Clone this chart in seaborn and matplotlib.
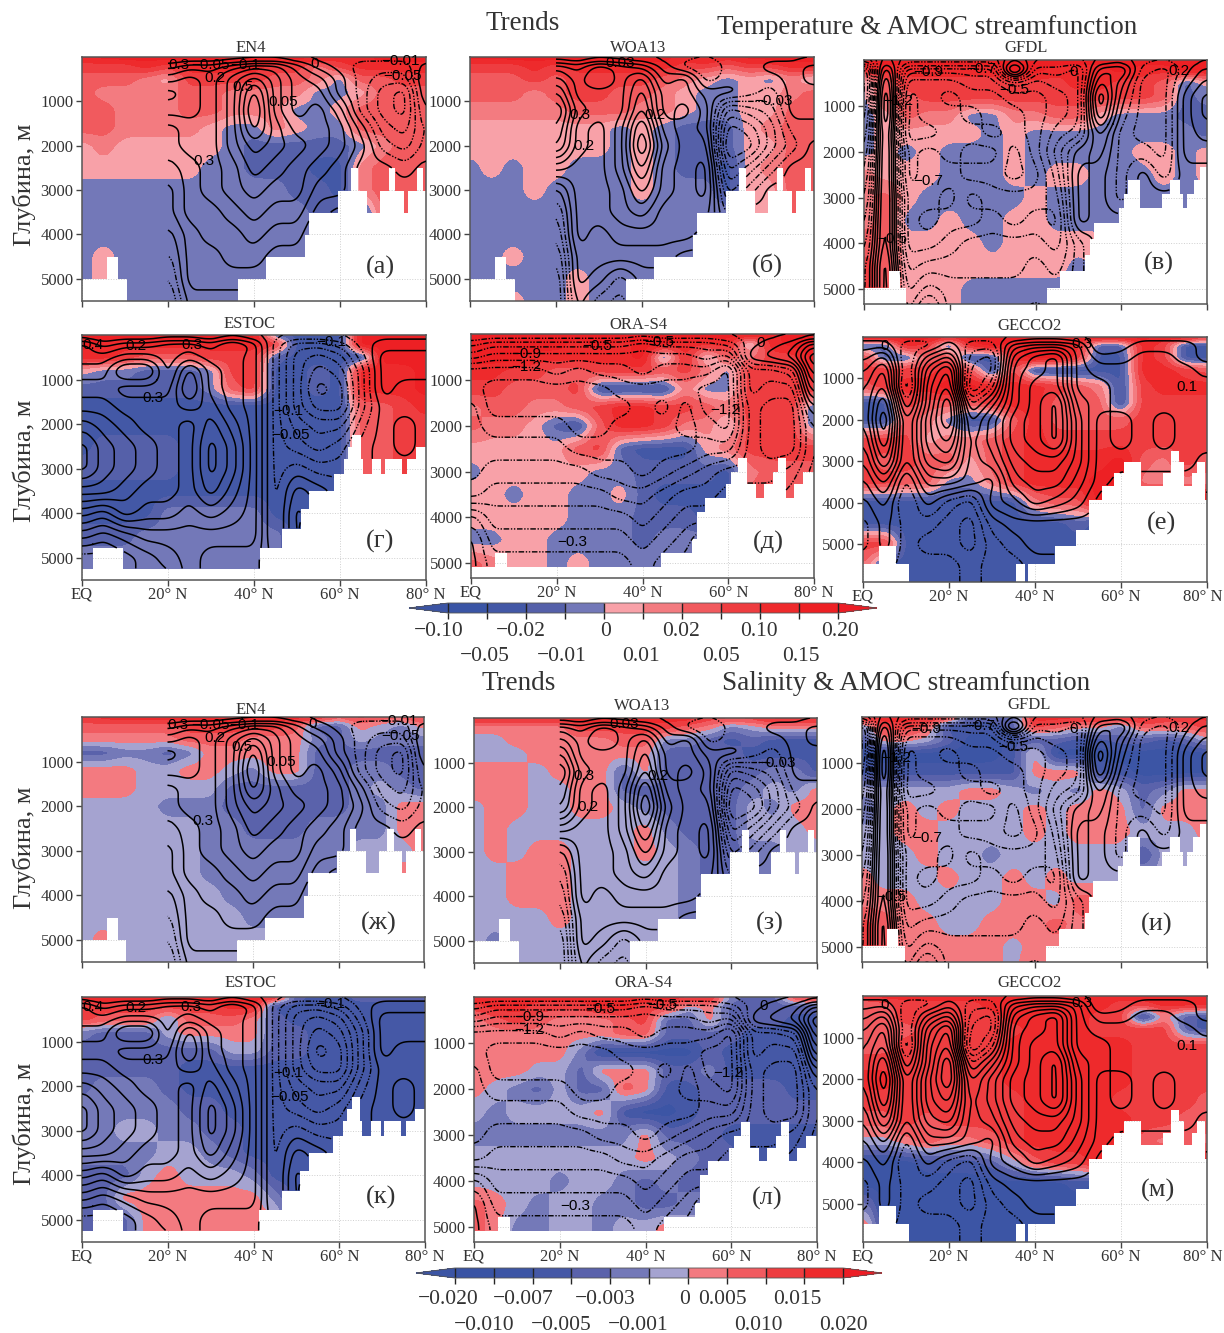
import numpy as np
import matplotlib
matplotlib.use('Agg')
import matplotlib.pyplot as plt
from matplotlib.cm import ScalarMappable
from matplotlib.colors import BoundaryNorm, ListedColormap
from matplotlib.transforms import ScaledTranslation
import seaborn as sns

sns.set_theme(style='ticks')
plt.rcParams['font.family'] = ['Liberation Serif', 'DejaVu Serif']

W, H = 1224, 1333

LATS = np.arange(0, 81, 5)
DEPTHS = [0, 200, 500, 800, 1200, 1600, 2000, 2500, 3000, 3500, 4000, 4500, 5000, 5500]

TEMP_COLORS = ['#3a55a5', '#4358a6', '#5560a9', '#7378b8', '#f8a1a8',
               '#f37b80', '#f15a5e', '#ee3d40', '#ee2a2c', '#ed2024']
SALT_COLORS = ['#3953a4', '#3c55a5', '#4558a6', '#5a62ab', '#7479b8',
               '#a5a3d0', '#f37a80', '#f15b60', '#ee3d40', '#ee2a2c']
TEMP_TICKS_1 = ['\u22120.10', '\u22120.02', '0', '0.02', '0.10', '0.20']
TEMP_TICKS_2 = ['\u22120.05', '\u22120.01', '0.01', '0.05', '0.15']
SALT_TICKS_1 = ['\u22120.020', '\u22120.007', '\u22120.003', '0', '0.005', '0.015']
SALT_TICKS_2 = ['\u22120.010', '\u22120.005', '\u22120.001', '0.010', '0.020']

# colour class of the trend per depth row, digits run over EQ-20, 25-45, 50-70, 75-80
EN4_T = ["89999 99999 99889 99", "77787 88887 75788 88", "66654 77776 65366 77", "65555 66555 53346 66",
         "66555 66555 33466 66", "66555 54335 43366 66", "45444 44322 22235 66", "44444 43322 21156 66",
         "33333 33333 22156 66", "33333 33333 32216 66", "33333 33333 33322 22", "34333 33333 33333 33",
         "34333 33333 33333 33", "33333 33333 33333 33"]
WOA_T = ["99999 99999 89899 99", "77787 88888 77677 88", "66676 77776 54343 53", "66656 77665 43344 56",
         "55555 66655 43344 66", "44444 44343 22245 66", "44444 44343 22244 66", "34344 33343 22145 66",
         "33343 33343 33144 66", "33333 33333 33344 66", "33333 33333 33333 33", "33433 33333 33333 33",
         "33333 43333 33333 33", "33433 43333 33333 33"]
GFDL_T = ["99999 99999 99999 99", "88888 88998 88988 99", "36777 77777 88776 24", "36677 77777 77776 23",
          "34655 33556 64333 22", "34444 43433 33333 32", "34343 33433 33344 34", "54443 33434 43334 34",
          "56433 33343 33333 33", "56334 33443 33333 33", "66444 43444 44333 33", "76444 44444 34444 44",
          "76444 33333 34444 44", "76444 33333 34444 44"]
ESTOC_T = ["99999 99992 11199 99", "98888 88887 11199 99", "88766 67772 11119 99", "43322 23771 12188 89",
           "22222 23671 12188 89", "11111 11111 11166 78", "11111 11111 11166 77", "12222 11111 11166 77",
           "22222 11111 11166 77", "11111 11111 11166 77", "11113 33331 11111 11", "22233 33333 11111 11",
           "33333 33333 11111 11", "33333 33333 11111 11"]
ORA_T = ["99999 99999 99998 99", "99999 89899 88838 99", "99988 88892 83657 79", "88776 67776 75377 78",
         "77666 71111 53377 77", "56655 67887 76577 72", "65542 16887 55377 72", "44444 67211 14577 77",
         "34444 43322 22156 66", "44344 33421 11166 66", "44444 33322 21166 66", "33443 33323 33333 33",
         "65443 43333 33333 33", "65443 43333 33333 33"]
GECCO_T = ["99998 99998 89998 97", "22872 89899 82287 11", "72266 11899 71187 11", "77778 61711 11188 76",
           "67889 98887 65178 88", "11766 67886 66177 77", "11653 11686 66677 77", "77745 56787 77777 77",
           "76766 46788 88965 76", "77663 35788 89955 55", "11111 11156 69999 99", "11111 11111 21111 11",
           "77111 11111 11111 11", "61111 11111 11111 11"]
EN4_S = ["89999 99999 99787 78", "77777 88888 73365 46", "66666 77766 64354 44", "33443 46666 63333 33",
         "66655 66546 63344 33", "66655 55333 33345 43", "55554 44333 33344 66", "55555 54433 34444 66",
         "55555 54444 44455 56", "55555 54444 44455 65", "55555 55444 44444 55", "55555 55544 44444 44",
         "56555 55555 55555 55", "55555 55555 55555 55"]
WOA_S = ["99999 99999 98889 99", "66666 88888 76456 66", "55666 66774 43232 22", "55566 66663 33322 22",
         "66656 66363 33334 42", "66655 66333 33345 46", "56655 66543 33354 66", "56555 55564 33355 56",
         "56566 55565 43344 55", "55666 55555 43344 55", "55666 55555 44444 44", "55556 55555 44444 44",
         "54555 55555 55555 55", "55555 55555 55555 55"]
GFDL_S = ["99998 33399 99998 89", "48872 22387 66477 78", "26653 11233 22332 35", "11111 11261 11111 11",
          "22222 22266 62211 11", "55555 66545 46534 66", "35656 55565 66636 66", "55665 55565 66655 56",
          "55565 54555 55525 55", "65556 55656 55555 55", "66655 55665 77666 66", "87665 56667 67777 77",
          "87666 66566 66777 77", "66666 66576 66666 66"]
ESTOC_S = ["99999 99999 32233 33", "88888 88992 22222 22", "87774 77763 22222 22", "43335 66663 32222 22",
           "33333 33553 32222 22", "33333 22222 22222 22", "34443 22222 22222 22", "44444 33222 22222 22",
           "44554 43322 22222 22", "44445 54322 22222 22", "33356 55542 22222 22", "33666 66664 22222 22",
           "33366 66666 22222 22", "33366 66666 22222 22"]
ORA_S = ["99999 99999 99433 89", "89988 89988 56333 33", "67876 66783 36333 22", "66666 66773 33322 22",
         "66666 41111 13222 22", "66655 36663 34222 22", "65435 33762 23333 22", "54555 56211 23333 33",
         "44444 44463 33222 22", "55555 55565 43322 22", "55554 55434 33333 33", "76545 54433 44444 44",
         "76445 54556 55555 55", "76445 54556 55555 55"]
GECCO_S = ["89999 99999 99999 99", "77888 89999 99889 99", "77888 88999 98816 32", "77788 88899 98888 32",
           "77888 88999 99988 88", "88888 88999 99988 88", "99888 88999 99988 88", "88888 88899 99888 87",
           "77878 88899 99988 77", "55676 67899 99976 76", "11122 23578 89999 99", "11111 11111 21111 11",
           "41111 11111 11111 11", "71111 11111 11111 11"]

# streamfunction in contour steps, x where a product has none
EN4_PSI = ["x x x x 0 0 0 0 0 0 0 0 0 0 0 0 0",
           "x x x x 2 3 3 4 5 5 3 1 0 -1 -1 -1 1",
           "x x x x 4 5 4 6 8 6 4 3 1 -1 -2 -2 2",
           "x x x x 6 5 4 6 10 6 4 4 1 -1 -3 -4 2",
           "x x x x 5 5 4 6 11 6 4 5 3 -1 -3 -4 1",
           "x x x x 3 4 4 6 10 7 5 5 4 1 -2 -3 0",
           "x x x x 3 4 4 6 8 7 6 5 4 2 -1 -2 0",
           "x x x x 2 3 4 5 7 6 5 4 3 1 1 0 1",
           "x x x x 1 3 4 5 6 5 5 3 3 1 1 1 1",
           "x x x x 1 3 3 4 5 4 4 2 1 1 1 1 1",
           "x x x x 0 2 3 3 4 3 3 1 1 1 1 1 1",
           "x x x x -1 2 2 3 3 2 2 1 1 1 1 1 1",
           "x x x x -2 2 2 2 2 2 1 1 1 1 1 1 1",
           "x x x x -3 1 1 1 1 1 1 1 1 1 1 1 1"]
WOA_PSI = ["x x x x 0 0 0 0 0 0 0 0 0 0 0 0 0",
           "x x x x 4 3 5 4 3 1 -1 -2 0 0 1 1 2",
           "x x x x 6 4 6 4 6 2 3 -1 0 0 0 1 2",
           "x x x x 8 4 4 4 7 3 3 1 1 0 -1 1 1",
           "x x x x 10 5 4 4 8 3 4 2 -4 -3 -2 1 1",
           "x x x x 9 4 3 5 10 4 3 2 -6 -5 -3 0 0",
           "x x x x 8 4 3 5 11 5 3 3 -7 -6 -3 -1 1",
           "x x x x 4 3 3 5 9 4 3 4 -5 -3 -1 1 1",
           "x x x x 0 3 3 4 7 4 3 4 -3 -1 1 1 1",
           "x x x x -2 3 3 4 5 3 3 3 -1 1 1 1 1",
           "x x x x -3 3 2 3 3 3 3 2 1 1 1 1 1",
           "x x x x -4 2 2 2 2 2 1 1 1 1 1 1 1",
           "x x x x -5 2 1 -1 1 1 1 1 1 1 1 1 1",
           "x x x x -5 1 -1 -2 0 1 1 1 1 1 1 1 1"]
GFDL_PSI = ["0 0 0 0 0 0 0 0 0 0 0 0 0 0 0 0 0",
            "-9 4 -4 -4 -4 -4 -4 6 -2 -2 -3 3 4 -1 -2 0 2",
            "-10 6 -6 -6 -6 -5 -5 -3 -4 -3 -3 5 2 -2 -2 1 3",
            "-10 7 -7 -6 -7 -6 -6 -5 -5 -4 -3 7 1 -2 -2 2 4",
            "-9 7 -7 -6 -6 -7 -6 -6 -5 -4 -3 6 0 -2 -2 2 4",
            "-8 6 -7 -7 -6 -6 -7 -6 -5 -3 -2 3 -1 -2 -2 2 3",
            "-7 6 -6 -5 -6 -5 -5 -7 -5 -2 1 2 -1 -1 -2 2 2",
            "-6 6 -6 -5 -5 -6 -6 -7 -6 -3 2 1 -1 1 -1 1 1",
            "-5 6 -5 -5 -6 -4 -5 -5 -5 -4 2 1 -1 1 1 1 1",
            "-4 6 -5 -6 -5 -5 -4 -5 -4 -5 2 1 1 1 1 1 1",
            "-3 6 -5 -5 -4 -3 -3 -3 -3 -4 -1 1 1 1 1 1 1",
            "-2 7 -4 -3 -3 -3 -3 -3 -2 -3 -1 1 1 1 1 1 1",
            "-2 7 -3 -1 -2 -2 -2 -2 -2 -2 -1 1 1 1 1 1 1",
            "0 7 -2 2 -2 -2 -2 -2 -1 -2 -1 1 1 1 1 1 1"]
ESTOC_PSI = ["0 0 0 0 0 0 0 0 0 0 0 0 0 0 0 0 0",
             "4 2 3 3 4 4 3 5 3 -1 -3 -3 -2 0 1 1 1",
             "4 4 5 5 4 5 4 4 3 -1 -4 -5 -4 -1 2 2 2",
             "5 5 8 8 4 8 5 4 3 -1 -4 -6 -5 -2 2 2 2",
             "6 6 5 5 5 9 5 4 3 -1 -4 -7 -6 -2 2 1 1",
             "7 7 6 6 6 7 6 4 3 -1 -4 -6 -6 -2 1 1 1",
             "9 8 7 6 6 5 7 5 3 -1 -3 -4 -4 -1 1 2 1",
             "11 9 8 7 6 5 8 6 3 -1 -2 -3 -2 0 1 2 1",
             "11 9 8 7 6 5 8 6 3 -1 0 -1 -1 0 1 1 1",
             "8 8 7 6 6 5 7 5 3 -1 2 1 0 0 0 0 0",
             "5 4 6 5 5 4 5 4 3 -1 3 1 0 0 0 0 0",
             "2 1 2 3 3 3 3 3 3 -1 3 0 0 0 0 0 0",
             "-1 -1 0 1 2 3 2 2 2 0 0 0 0 0 0 0 0",
             "-1 -1 0 1 1 3 2 1 2 0 0 0 0 0 0 0 0"]
ORA_PSI = ["0 0 0 0 0 0 0 0 0 0 0 0 0 0 0 0 0",
           "-2 -3 -3 -3 -3 -3 -3 -3 -4 -3 -3 -3 -2 0 1 2 5",
           "-4 -5 -5 -5 -5 -5 -5 -5 -5 -5 -5 -4 -5 1 2 3 8",
           "-7 -7 -7 -7 -6 -7 -6 -6 -5 -6 -6 -6 -8 -2 -2 -1 7",
           "-7 -8 -8 -8 -8 -8 -8 -7 -7 -7 -7 -8 -8 -2 -3 -3 5",
           "-6 -8 -8 -8 -8 -8 -8 -8 -7 -8 -6 -8 -8 -3 -4 -4 2",
           "-6 -7 -7 -7 -7 -8 -8 -7 -7 -7 -6 -7 -8 -3 -4 -4 0",
           "-6 -6 -6 -6 -6 -7 -7 -7 -7 -7 -7 -6 -6 -3 -4 -4 0",
           "-6 -5 -5 -5 -5 -5 -6 -6 -7 -6 -5 -4 -3 -3 -3 -2 0",
           "-5 -4 -4 -4 -4 -4 -4 -5 -5 -4 -3 -3 -2 -2 -2 -1 0",
           "-1 -3 -3 -3 -3 -3 -3 -3 -4 -3 -2 -2 -1 -1 -1 -1 0",
           "1 -2 -2 -2 -2 -2 -2 -2 -3 -2 -1 1 0 0 0 0 0",
           "1 -1 -1 -1 -1 -1 -1 -1 -2 -1 0 1 0 0 0 0 0",
           "1 -1 -1 -1 -1 -1 -1 -1 -2 -1 0 1 0 0 0 0 0"]
GECCO_PSI = ["0 0 0 0 0 0 0 0 0 0 0 0 0 0 0 0 0",
             "1 1 -1 -1 1 -1 -1 3 4 4 3 -1 0 1 1 1 0",
             "2 4 -2 2 4 -2 -3 5 7 8 3 1 1 2 2 1 0",
             "3 6 -2 4 7 -3 -3 6 7 8 3 2 2 2 2 2 1",
             "4 7 -3 5 8 -4 -1 6 8 8 3 3 2 2 2 2 2",
             "4 9 -1 5 10 -1 2 6 8 10 4 3 2 2 2 2 2",
             "4 10 1 6 10 1 4 7 8 10 5 2 3 2 3 2 2",
             "3 9 1 6 8 2 4 7 8 10 5 2 3 2 3 2 2",
             "2 7 1 5 6 2 3 6 7 7 5 2 2 2 2 2 1",
             "1 4 -1 3 3 2 1 5 6 6 4 2 1 1 1 1 1",
             "0 2 -2 1 -1 -2 2 3 5 4 3 1 0 0 0 0 0",
             "-1 1 -1 -1 -2 -3 0 1 1 1 1 1 0 0 0 0 0",
             "-1 1 -1 -2 -2 -3 -1 0 1 1 1 0 0 0 0 0 0",
             "0 0 -1 -1 -1 -2 -1 -1 0 0 0 0 0 0 0 0 0"]

# bottom steps: western edge of the step and its depth
OBS_EDGES = [0, 6, 8.5, 10.5, 36.5, 43, 52, 53, 59.7, 62.7, 64.2, 66.5, 69.3, 71.5, 73, 74.8, 76, 78, 79.5]
OBS_FLOOR = [5000, 4500, 5000, 6000, 5000, 4500, 4000, 3500, 3000, 2500, 3000, 3500, 3000, 2500, 3000, 3500, 3000, 2500, 3000]
ESTOC_EDGES = [0, 2.6, 9.6, 41.5, 46.6, 50.9, 52.9, 58.7, 60.9, 61.9, 62.9, 64.8, 65.5, 67.5, 69.6, 70.5, 74.5, 75.6, 77.6]
ESTOC_FLOOR = [5250, 4790, 5250, 4790, 4340, 3900, 3500, 3130, 2780, 2500, 2240, 2780, 3130, 2780, 3130, 2780, 3130, 2780, 2500]
ORA_EDGES = [0, 5.6, 8.5, 44.4, 51.6, 52.6, 54.6, 59.5, 60.7, 62.5, 64.4, 66.4, 68.4, 70.5, 71.6, 73.5, 75.4, 77.5]
ORA_FLOOR = [5060, 4760, 5060, 4760, 4460, 3860, 3575, 3265, 3000, 2710, 3265, 3575, 3265, 3000, 2710, 3575, 3265, 3000]
GFDL_EDGES = [0, 6, 8.4, 9.8, 42.6, 45.7, 51.6, 52.6, 53.7, 59.5, 60.7, 61.6, 64.4, 69.6, 71.5, 73.7, 74.5, 75.5, 76.9, 78.5]
GFDL_FLOOR = [4960, 4615, 4960, 6000, 4960, 4615, 4240, 3910, 3550, 3225, 2920, 2610, 3225, 2920, 2610, 2920, 3225, 2920, 2610, 2330]
GECCO_EDGES = [0, 3.6, 7.6, 10.6, 35.7, 37.6, 38.5, 44.7, 49.6, 52.6, 55.7, 58.5, 60.7, 64.6, 69.8, 71.7, 73.5, 74.6, 76.6, 77.6, 79.7]
GECCO_FLOOR = [5480, 5056, 5480, 6000, 5480, 6000, 5480, 5056, 4655, 3930, 3595, 3290, 3008, 3586, 3290, 2743, 3008, 3586, 3290, 3008, 3930]

EN4_LABELS = [(22.5, 170, '0.3'), (30, 170, '\u22120.05'), (38, 170, '\u22120.1'), (31, 480, '0.2'),
              (37.5, 680, '0.5'), (46.7, 1010, '0.05'), (28.4, 2340, '0.3'), (54, 160, '0'),
              (74, 100, '\u22120.01'), (74.6, 420, '\u22120.05')]
WOA_LABELS = [(35, 130, '0.03'), (25.6, 1300, '0.3'), (26.5, 2000, '0.2'), (43, 1300, '0.2'), (70.5, 1000, '\u22120.03')]
GFDL_LABELS = [(15, 270, '\u22120.9'), (27.4, 200, '\u22120.7'), (35, 650, '\u22120.5'), (8, 900, '\u22121.2'),
               (15, 2630, '\u22120.7'), (6.7, 3900, '\u22120.5'), (49, 270, '0'), (73.5, 240, '0.2')]
ESTOC_LABELS = [(2.5, 220, '0.4'), (12.5, 240, '0.2'), (25.5, 220, '0.3'), (16.5, 1420, '0.3'),
                (58, 150, '\u22120.1'), (48, 1700, '\u22120.1'), (48.5, 2250, '\u22120.05')]
ORA_LABELS = [(12.8, 430, '\u22120.9'), (13, 720, '\u22121.2'), (29.5, 260, '\u22120.5'), (44, 170, '\u22120.5'),
              (67.5, 200, '0'), (59.3, 1650, '\u22121.2'), (23.5, 4540, '\u22120.3')]
GECCO_LABELS = [(5, 220, '0'), (51, 170, '0.3'), (75.3, 1210, '0.1')]

fine_x = np.arange(0, 80.01, 0.25)
fine_z = np.arange(0, 5921, 20)


def parse_classes(rows):
    return np.array([[int(c) + 0.5 for c in r.replace(' ', '')] for r in rows])


def parse_psi(rows):
    return np.array([[np.nan if v == 'x' else float(v) for v in r.split()] for r in rows])


def refine(grid):
    by_depth = np.array([np.interp(fine_z, DEPTHS, grid[:, j]) for j in range(grid.shape[1])])
    return np.array([np.interp(fine_x, LATS, by_depth[:, i]) for i in range(len(fine_z))])


def smooth(field, kx, kz):
    ok = np.isfinite(field)
    val = np.nan_to_num(field)
    wgt = ok.astype(float)
    for axis, k in ((1, kx), (0, kz)):
        box = np.ones(k) / k
        val = np.apply_along_axis(np.convolve, axis, val, box, mode='same')
        wgt = np.apply_along_axis(np.convolve, axis, wgt, box, mode='same')
    out = val / np.maximum(wgt, 1e-6)
    out[~ok] = np.nan
    return out


def floor_mask(edges, floor):
    bottom = np.array(floor)[np.searchsorted(edges, fine_x, side='right') - 1]
    return fine_z[:, None] > bottom[None, :]


def draw_panel(box, title, title_xy, classes, psi, labels, colors, edges, floor, ymax, letter, letter_xy, show_x):
    x0, y0, x1, y1 = box
    ax = fig.add_axes([x0 / W, 1 - y1 / H, (x1 - x0) / W, (y1 - y0) / H])
    hidden = floor_mask(edges, floor)

    field = smooth(smooth(refine(parse_classes(classes)), 9, 5), 9, 5)
    field[hidden] = np.nan
    ax.contourf(fine_x, fine_z, field, levels=np.arange(11), colors=colors, corner_mask=False, zorder=2)

    stream = smooth(smooth(refine(parse_psi(psi)), 9, 9), 9, 9)
    stream[hidden] = np.nan
    ax.contour(fine_x, fine_z, stream, levels=np.arange(0.5, 14), colors='black',
               linewidths=1.1, linestyles='solid', zorder=3)
    ax.contour(fine_x, fine_z, stream, levels=np.arange(-13.5, 0), colors='black',
               linewidths=1.0, linestyles=[(0, (4, 1.2, 1, 1.2, 1, 1.2))], zorder=3)

    for lx, lz, txt in labels:
        ax.text(lx, lz, txt, ha='center', va='center', fontsize=11, color='black',
                family=['Liberation Sans'], zorder=4)

    ax.set_xlim(0, 80)
    ax.set_ylim(ymax, 0)
    ax.set_xticks(XTICKS)
    ax.set_xticklabels(XTICK_LABELS if show_x else [])
    ax.set_yticks(YTICKS)
    ax.grid(True, color='#cfcfcf', ls=':', lw=0.7, zorder=0)
    ax.set_axisbelow(True)
    ax.tick_params(length=4, width=1, color='#444444', labelcolor='#333333', labelsize=12, pad=2)
    ax.tick_params(axis='x', pad=1)
    for sp in ax.spines.values():
        sp.set_color('#555555')
        sp.set_linewidth(1.1)
    if show_x and x1 > 1200:
        lab = ax.xaxis.get_major_ticks()[-1].label1
        lab.set_transform(lab.get_transform() + ScaledTranslation(-4.5 / 100, 0, fig.dpi_scale_trans))
    put(title_xy[0], title_xy[1] + 1, title, 12)
    put(letter_xy[0], letter_xy[1] + 2, letter, 19)
    return ax


def put(px, py, txt, size, **kw):
    fig.text(px / W, 1 - py / H, txt, ha='center', va='center', fontsize=size, color='#333333', **kw)


def draw_colorbar(box, colors, under, over):
    x0, y0, x1, y1 = box
    cax = fig.add_axes([x0 / W, 1 - y1 / H, (x1 - x0) / W, (y1 - y0) / H])
    cmap = ListedColormap(sns.color_palette(colors).as_hex())
    cmap.set_under(under)
    cmap.set_over(over)
    sm = ScalarMappable(norm=BoundaryNorm(np.arange(11), 10), cmap=cmap)
    cb = fig.colorbar(sm, cax=cax, orientation='horizontal', extend='both', extendfrac=0.1,
                      drawedges=True, ticks=[])
    cb.dividers.set_color('#222222')
    cb.dividers.set_linewidth(1)
    cb.outline.set_edgecolor('#555555')
    cb.outline.set_linewidth(0.6)


XTICKS = [0, 20, 40, 60, 80]
XTICK_LABELS = ['EQ', '20\u00b0 N', '40\u00b0 N', '60\u00b0 N', '80\u00b0 N']
YTICKS = [1000, 2000, 3000, 4000, 5000]

fig = plt.figure(figsize=(W / 100, H / 100), dpi=100, facecolor='white')

draw_panel((82, 57, 426, 301), 'EN4', (251, 47), EN4_T, EN4_PSI, EN4_LABELS, TEMP_COLORS, OBS_EDGES, OBS_FLOOR, 5500, '(а)', (380, 265), False)
draw_panel((470, 57, 814, 301), 'WOA13', (638, 47), WOA_T, WOA_PSI, WOA_LABELS, TEMP_COLORS, OBS_EDGES, OBS_FLOOR, 5500, '(б)', (767, 263), False)
draw_panel((864, 60, 1207, 304), 'GFDL', (1026, 47), GFDL_T, GFDL_PSI, GFDL_LABELS, TEMP_COLORS, GFDL_EDGES, GFDL_FLOOR, 5320, '(в)', (1159, 261), False)
draw_panel((82, 335, 426, 580), 'ESTOC', (250, 323), ESTOC_T, ESTOC_PSI, ESTOC_LABELS, TEMP_COLORS, ESTOC_EDGES, ESTOC_FLOOR, 5500, '(г)', (380, 539), True)
draw_panel((471, 334, 814, 578), 'ORA-S4', (638, 324), ORA_T, ORA_PSI, ORA_LABELS, TEMP_COLORS, ORA_EDGES, ORA_FLOOR, 5320, '(д)', (768, 540), True)
draw_panel((863, 337, 1207, 582), 'GECCO2', (1029, 325), GECCO_T, GECCO_PSI, GECCO_LABELS, TEMP_COLORS, GECCO_EDGES, GECCO_FLOOR, 5920, '(е)', (1161, 521), True)
draw_panel((82, 717, 424, 962), 'EN4', (251, 709), EN4_S, EN4_PSI, EN4_LABELS, SALT_COLORS, OBS_EDGES, OBS_FLOOR, 5500, '(ж)', (379, 921), False)
draw_panel((474, 718, 817, 963), 'WOA13', (642, 705), WOA_S, WOA_PSI, WOA_LABELS, SALT_COLORS, OBS_EDGES, OBS_FLOOR, 5500, '(з)', (770, 921), False)
draw_panel((862, 717, 1207, 962), 'GFDL', (1029, 704), GFDL_S, GFDL_PSI, GFDL_LABELS, SALT_COLORS, GFDL_EDGES, GFDL_FLOOR, 5320, '(и)', (1157, 922), False)
draw_panel((82, 997, 425, 1242), 'ESTOC', (251, 982), ESTOC_S, ESTOC_PSI, ESTOC_LABELS, SALT_COLORS, ESTOC_EDGES, ESTOC_FLOOR, 5500, '(к)', (381, 1195), True)
draw_panel((474, 997, 817, 1242), 'ORA-S4', (643, 982), ORA_S, ORA_PSI, ORA_LABELS, SALT_COLORS, ORA_EDGES, ORA_FLOOR, 5320, '(л)', (767, 1196), True)
draw_panel((863, 996, 1207, 1242), 'GECCO2', (1030, 982), GECCO_S, GECCO_PSI, GECCO_LABELS, SALT_COLORS, GECCO_EDGES, GECCO_FLOOR, 5920, '(м)', (1158, 1188), True)

draw_colorbar((409, 603, 877, 613), TEMP_COLORS, '#3b54a4', '#ed1c24')
draw_colorbar((416, 1268, 882, 1278), SALT_COLORS, '#3b54a4', '#ed1c24')

for py in (185, 461, 848, 1124):
    put(24, py, 'Глубина, м', 19, rotation=90)

put(523, 23, 'Trends', 19.5)
put(927, 27, 'Temperature & AMOC streamfunction', 19.5)
put(519, 683, 'Trends', 19.5)
put(906, 683, 'Salinity & AMOC streamfunction', 19.5)

for px, txt in zip([439, 521, 606, 681, 759, 840], TEMP_TICKS_1):
    put(px, 632, txt, 15.5)
for px, txt in zip([485, 562, 641, 721, 801], TEMP_TICKS_2):
    put(px, 657, txt, 15.5)
for px, txt in zip([448, 523, 605, 685, 722, 797], SALT_TICKS_1):
    put(px, 1299, txt, 15.5)
for px, txt in zip([484, 561, 638, 758, 843], SALT_TICKS_2):
    put(px, 1325, txt, 15.5)

plt.savefig('out.png', dpi=100)
plt.close()
